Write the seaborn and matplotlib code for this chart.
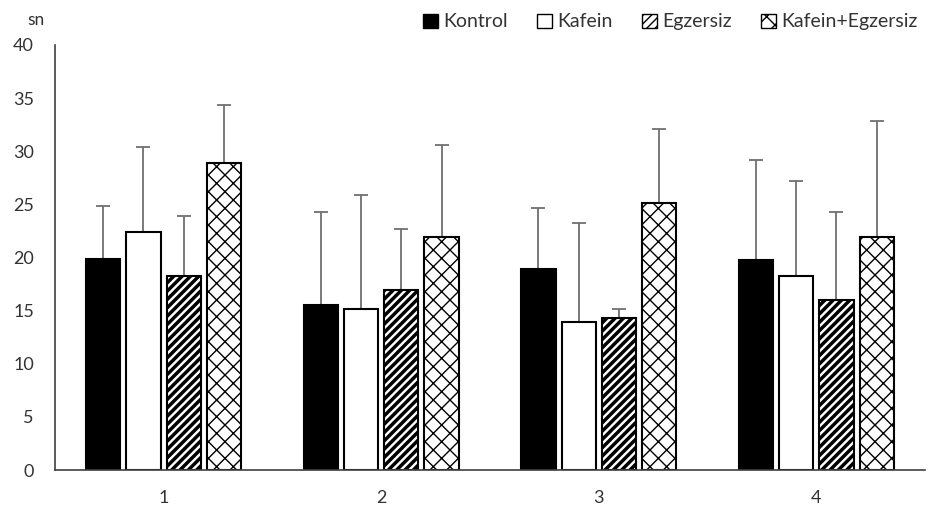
import matplotlib
matplotlib.use("Agg")
import matplotlib.pyplot as plt
from matplotlib.patches import Patch
import numpy as np
import pandas as pd
import seaborn as sns

groups = ["1", "2", "3", "4"]
series = ["Kontrol", "Kafein", "Egzersiz", "Kafein+Egzersiz"]
kontrol = [19.9, 15.5, 18.9, 19.8]
kafein = [22.4, 15.2, 13.9, 18.3]
egzersiz = [18.3, 16.9, 14.3, 16.0]
kafein_egz = [28.9, 21.9, 25.1, 21.9]
# upper error (SD) tops
kontrol_top = [24.8, 24.3, 24.7, 29.2]
kafein_top = [30.4, 25.9, 23.2, 27.2]
egzersiz_top = [23.9, 22.7, 15.2, 24.3]
kafein_egz_top = [34.3, 30.6, 32.1, 32.8]

means = [kontrol, kafein, egzersiz, kafein_egz]
tops = [kontrol_top, kafein_top, egzersiz_top, kafein_egz_top]

rows = []
for s, vals in zip(series, means):
    for g, v in zip(groups, vals):
        rows.append({"grup": g, "seri": s, "deger": v})
df = pd.DataFrame(rows)

sns.set_style("white")
plt.rcParams["font.family"] = ["Lato", "DejaVu Sans"]

fig = plt.figure(figsize=(9.45, 5.16), dpi=100)
ax = fig.add_axes([0.058, 0.089, 0.921, 0.824])

sns.barplot(data=df, x="grup", y="deger", hue="seri", order=groups,
            hue_order=series, width=0.74, gap=0.15, ax=ax,
            palette=["black", "white", "white", "white"],
            edgecolor="black", linewidth=1.5, errorbar=None, legend=False)

hatches = ["", "", "////", "xx"]
bar_conts = list(ax.containers)
for i, cont in enumerate(bar_conts):
    for bar in cont:
        bar.set_hatch(hatches[i])
        bar.set_zorder(2)
        if hasattr(bar, "set_hatch_linewidth"):
            bar.set_hatch_linewidth(2.5 if i == 2 else 1.0)
    xs = [b.get_x() + b.get_width() / 2 for b in cont]
    hs = np.array([b.get_height() for b in cont])
    up = np.array(tops[i]) - hs
    ax.errorbar(xs, hs, yerr=[np.zeros_like(up), up], fmt="none",
                ecolor="#707070", elinewidth=1.3, capsize=5, capthick=1.3,
                zorder=1)

ax.set_ylim(0, 40)
ax.set_xlim(-0.5, 3.5)
ax.set_yticks(range(0, 41, 5))
ax.set_xticks(range(4))
ax.set_xticklabels(groups)
ax.set_xticks(np.arange(-0.5, 4, 1), minor=True)
ax.tick_params(axis="x", which="major", length=0, labelsize=13, pad=14,
               labelcolor="#333333")
ax.tick_params(axis="x", which="minor", length=6, width=1, color="#404040",
               direction="out")
ax.tick_params(axis="y", length=5, width=1, color="#404040", direction="out",
               labelsize=13, pad=10, labelcolor="#333333")
ax.set_xlabel("")
ax.set_ylabel("")
for side in ["top", "right"]:
    ax.spines[side].set_visible(False)
for side in ["left", "bottom"]:
    ax.spines[side].set_color("#404040")
    ax.spines[side].set_linewidth(1.2)

fig.text(0.029, 0.952, "sn", fontsize=12.5, color="#333333")

handles = [Patch(facecolor=("black" if i == 0 else "white"), edgecolor="black",
                 hatch=hatches[i], label=s) for i, s in enumerate(series)]
ax.legend(handles=handles, loc="upper right", bbox_to_anchor=(1.012, 1.115),
          ncol=4, frameon=False, fontsize=14, handlelength=0.75,
          handleheight=0.75, handletextpad=0.3, columnspacing=1.5,
          labelcolor="#333333")

fig.savefig("out.png", dpi=100)
